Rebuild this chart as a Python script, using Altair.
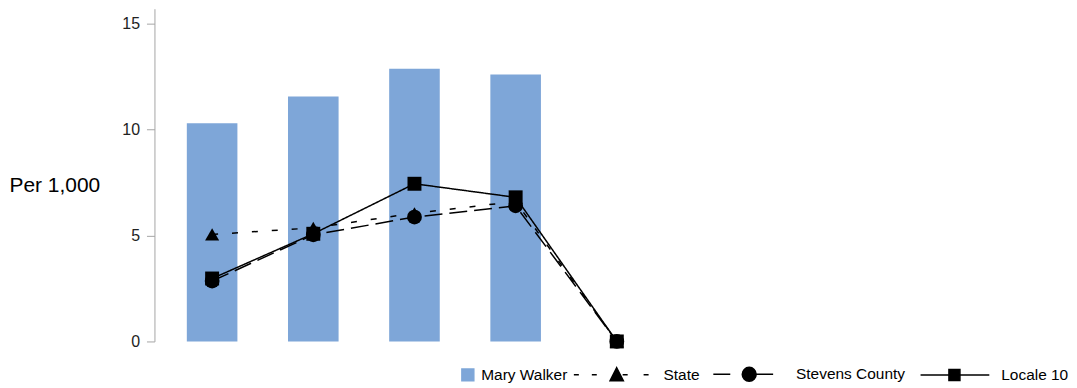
import altair as alt
import pandas as pd

# ---- data ----
categories = ["2015", "2016", "2017", "2018", "2019"]
mary_walker = [10.30, 11.56, 12.87, 12.59, None]
state = [5.05, 5.36, 6.05, 6.60, 0.0]
stevens_county = [2.85, 5.03, 5.87, 6.40, 0.0]
locale_10 = [2.97, 5.08, 7.44, 6.80, 0.0]
series_names = ["Mary Walker", "State", "Stevens County", "Locale 10"]
y_ticks = [0, 5, 10, 15]

BAR_COLOR = "#7ea6d8"
FONT = "Liberation Sans"

bars_df = pd.DataFrame({"cat": categories, "value": mary_walker})
lines_df = pd.DataFrame({
    "cat": categories * 3,
    "value": state + stevens_county + locale_10,
    "series": ["State"] * 5 + ["Stevens County"] * 5 + ["Locale 10"] * 5,
})
legend_df = pd.DataFrame({"series": series_names})

x_enc = alt.X("cat:N", sort=categories, axis=None,
              scale=alt.Scale(paddingInner=0.5, paddingOuter=0.32))
y_enc = alt.Y(
    "value:Q",
    scale=alt.Scale(domain=[0, 15.7], nice=False),
    axis=alt.Axis(
        values=y_ticks, title="Per 1,000", titleAngle=0, titleAlign="left",
        titleBaseline="middle", titleX=-146, titleY=177, titleFont=FONT,
        titleFontSize=21, titleFontWeight="normal", titleColor="black",
        labelFont=FONT, labelFontSize=16, labelColor="#222222", labelPadding=7,
        tickSize=8, tickColor="#a6a6a6", domainColor="#a6a6a6", grid=False,
    ),
)

bars = alt.Chart(bars_df).mark_bar(color=BAR_COLOR).encode(x=x_enc, y=y_enc)

line_styles = {
    "State": ([6, 14], "triangle-up", 200),
    "Stevens County": ([18, 7], "circle", 220),
    "Locale 10": ([1, 0], "square", 196),
}

layers = [bars]
for name in ["State", "Stevens County", "Locale 10"]:
    dash, shape, size = line_styles[name]
    base = alt.Chart(lines_df).transform_filter(alt.datum.series == name)
    layers.append(base.mark_line(color="black", strokeWidth=1.5, strokeDash=dash)
                  .encode(x=x_enc, y=y_enc))
for name in ["State", "Stevens County", "Locale 10"]:
    dash, shape, size = line_styles[name]
    base = alt.Chart(lines_df).transform_filter(alt.datum.series == name)
    layers.append(base.mark_point(shape=shape, filled=True, color="black",
                                  size=size, opacity=1)
                  .encode(x=x_enc, y=y_enc))

# legend symbols (custom paths: line + marker)
pad = "M-1,0L-1,0M1,0L1,0"
legend_paths = [
    pad + "M0.6,-0.13H0.86V0.13H0.6Z",
    pad + "M-0.935,0H-0.826M-0.543,0H-0.435M0.13,0H0.239M0.587,0H0.696"
          "M0,-0.155L0.145,0.13L-0.145,0.13Z",
    pad + "M-0.783,0H-0.413M0.152,0H0.522"
          "M-0.152,0A0.152,0.152 0 1,0 0.152,0A0.152,0.152 0 1,0 -0.152,0Z",
    pad + "M-0.739,0H0.761M-0.12,-0.12H0.12V0.12H-0.12Z",
]
legend_colors = [BAR_COLOR, "black", "black", "black"]

leg = alt.Legend(
    title=None, orient="none", legendX=234, legendY=320, direction="horizontal",
    columns=4, symbolSize=8464, labelFont=FONT, labelFontSize=15.5,
    labelColor="black", labelOffset=0, columnPadding=0, padding=0,
    symbolStrokeWidth=1.5, symbolOffset=0, symbolOpacity=1,
)

legend_layer = (
    alt.Chart(legend_df)
    .transform_filter("false")
    .mark_point(filled=True, opacity=1)
    .encode(
        color=alt.Color("series:N", scale=alt.Scale(domain=series_names, range=legend_colors), legend=leg),
        stroke=alt.Stroke("series:N", scale=alt.Scale(domain=series_names, range=legend_colors), legend=leg),
        shape=alt.Shape("series:N", scale=alt.Scale(domain=series_names, range=legend_paths), legend=leg),
    )
)
layers.append(legend_layer)

chart = (
    alt.layer(*layers)
    .properties(width=522, height=334,
                padding={"left": 1, "top": 0, "right": 0, "bottom": 0})
    .configure_view(stroke=None)
)

chart.save("out.html", embed_options={"renderer": "svg", "actions": False})
